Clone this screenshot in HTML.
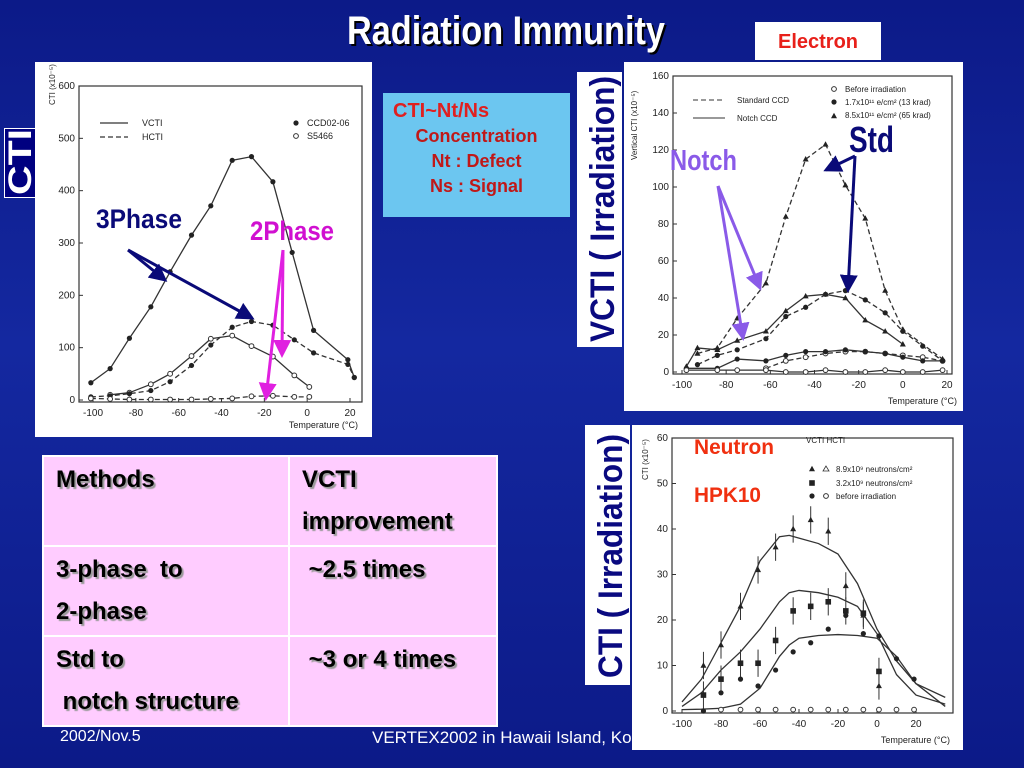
<!DOCTYPE html>
<html><head><meta charset="utf-8"><style>
body{margin:0;width:1024px;height:768px;overflow:hidden;background:linear-gradient(180deg,#0c1a88 0%,#1428a0 45%,#0c1a88 100%);font-family:"Liberation Sans",sans-serif;position:relative}
.abs{position:absolute}
.panel{background:#fff}
table{border-collapse:collapse}
td{border:2px solid #fff;background:#ffccff;vertical-align:top;font-weight:bold;font-size:24px;color:#000;line-height:42px;padding:2px 12px;text-shadow:2px 2px 1px #999}
</style></head><body>
<div class="abs panel" style="left:755px;top:22px;width:126px;height:38px;color:#e8201a;font-size:20px;font-weight:bold;text-align:center;line-height:40px">Electron</div>
<div class="abs" style="left:4px;top:128px;width:30px;height:68px;background:#000080;border:1px solid #fff"></div>
<div class="abs panel" style="left:35px;top:62px;width:337px;height:375px"></div>
<div class="abs" style="left:383px;top:93px;width:187px;height:124px;background:#6cc6f0;color:#c01818;font-size:18px;font-weight:bold;text-align:center;line-height:25px">
<div style="text-align:left;padding-left:10px;font-size:20px;color:#e02020;padding-top:6px">CTI~Nt/Ns</div>
<div>Concentration</div><div>Nt : Defect</div><div>Ns : Signal</div></div>
<div class="abs panel" style="left:577px;top:72px;width:45px;height:275px"></div>
<div class="abs panel" style="left:624px;top:62px;width:339px;height:349px"></div>
<div class="abs panel" style="left:585px;top:425px;width:45px;height:260px"></div>
<div class="abs" style="left:60px;top:728px;color:#fff;font-size:16px">2002/Nov.5</div>
<div class="abs" style="left:372px;top:728px;color:#fff;font-size:17px;white-space:nowrap">VERTEX2002 in Hawaii Island, Kona</div>
<div class="abs panel" style="left:632px;top:425px;width:331px;height:325px"></div>
<table class="abs" style="left:42px;top:455px;width:456px;height:264px">
<tr style="height:90px"><td style="width:220px">Methods</td><td>VCTI<br>improvement</td></tr>
<tr style="height:85px"><td>3-phase&nbsp; to<br>2-phase</td><td>&nbsp;~2.5 times</td></tr>
<tr style="height:89px"><td>Std to<br>&nbsp;notch structure</td><td>&nbsp;~3 or 4 times</td></tr>
</table>
<svg class="abs" id="svg" style="left:0;top:0" width="1024" height="768" font-family="Liberation Sans, sans-serif"></svg>
<script>
// ---- Chart 1 (left) data ----
const c1_vcti_ccd = [[-101,33],[-92,60],[-83,118],[-73,178],[-64,245],[-54,315],[-45,371],[-35,458],[-26,465],[-16,417],[-7,282],[3,133],[19,77],[22,43]];
const c1_vcti_s = [[-92,10],[-83,14],[-73,30],[-64,50],[-54,84],[-45,117],[-35,123],[-26,103],[-16,83],[-6,47],[1,25]];
const c1_hcti_ccd = [[-101,6],[-92,8],[-83,12],[-73,18],[-64,35],[-54,66],[-45,105],[-35,139],[-26,150],[-16,143],[-6,115],[3,90],[19,68],[22,43]];
const c1_hcti_s = [[-101,3],[-92,2],[-83,1],[-73,1],[-64,1],[-54,1],[-45,2],[-35,3],[-26,7],[-16,8],[-6,6],[1,6]];
const c1_xticks = [-100,-80,-60,-40,-20,0,20];
const c1_yticks = [0,100,200,300,400,500,600];
// ---- Chart 2 (electron) data ----
const c2_std_tri = [[-93,10],[-84,13],[-75,29],[-62,48],[-53,84],[-44,115],[-35,123],[-26,101],[-17,83],[-8,44],[0,23],[18,7]];
const c2_std_dot = [[-93,4],[-84,9],[-75,12],[-62,18],[-53,30],[-44,35],[-35,42],[-26,44],[-17,39],[-8,32],[0,22],[9,14],[18,6]];
const c2_std_open = [[-62,2],[-53,6],[-44,8],[-35,10],[-26,11],[-17,11],[-8,10],[0,9],[9,8],[18,6]];
const c2_notch_tri = [[-98,3],[-93,13],[-84,12],[-75,17],[-62,22],[-53,33],[-44,41],[-35,42],[-26,40],[-17,28],[-8,22],[0,15]];
const c2_notch_dot = [[-98,2],[-84,2],[-75,7],[-62,6],[-53,9],[-44,11],[-35,11],[-26,12],[-17,11],[-8,10],[0,8],[9,6],[18,6]];
const c2_notch_open = [[-98,1],[-84,1],[-75,1],[-62,1],[-53,0],[-44,0],[-35,1],[-26,0],[-17,0],[-8,1],[0,0],[9,0],[18,1]];
const c2_xticks = [-100,-80,-60,-40,-20,0,20];
const c2_yticks = [0,20,40,60,80,100,120,140,160];
// ---- Chart 3 (neutron) data ----
const c3_temps = [-89,-80,-70,-61,-52,-43,-34,-25,-16,-7,1];
const c3_tri = [10,14.5,23,31,36,40,42,39.5,27.5,21,5.5];
const c3_sq = [3.5,7,10.5,10.5,15.5,22,23,24,22,21.5,8.7];
const c3_dot_t = [-89,-80,-70,-61,-52,-43,-34,-25,-16,-7,1,10,19];
const c3_dot = [0,4,7,5.5,9,13,15,18,21,17,16.5,11.5,7];
const c3_fit_t = [-100,-90,-80,-70,-60,-50,-45,-40,-30,-20,-10,0,10,20,35];
const c3_fit_hi = [2,7,15,23,33,38.3,38.6,38,36.8,34.5,28,18,11,6,3];
const c3_fit_mid = [1,4,9,13,18,24,26,26.5,26,25,23,17,8,3.5,1.5];
const c3_fit_lo = [0.3,0.4,0.6,1.5,5,12,14.5,16,16.6,16.8,16.6,16,12,6,1];
const c3_xticks = [-100,-80,-60,-40,-20,0,20];
const c3_yticks = [0,10,20,30,40,50,60];

const svg=document.getElementById('svg');
const NS='http://www.w3.org/2000/svg';
function el(tag,attrs,parent){const e=document.createElementNS(NS,tag);for(const k in attrs)e.setAttribute(k,attrs[k]);(parent||svg).appendChild(e);return e;}
function txt(x,y,s,attrs,parent){const t=el('text',Object.assign({x:x,y:y,'font-size':10,fill:'#222'},attrs),parent);t.textContent=s;return t;}
function axes(g,x,y,xt,yt,box){
  el('rect',{x:box[0],y:box[1],width:box[2]-box[0],height:box[3]-box[1],fill:'none',stroke:'#333','stroke-width':1.2},g);
  xt.forEach(v=>{el('line',{x1:x(v),x2:x(v),y1:box[3],y2:box[3]-4,stroke:'#333'},g);const t=txt(x(v),box[3]+14,String(v),{'text-anchor':'middle'},g);});
  yt.forEach(v=>{el('line',{x1:box[0],x2:box[0]+4,y1:y(v),y2:y(v),stroke:'#333'},g);const t=txt(box[0]-4,y(v)+3,String(v),{'text-anchor':'end'},g);});
}
function path(g,pts,x,y,dash,name){const p=el('polyline',{points:pts.map(d=>x(d[0])+','+y(d[1])).join(' '),fill:'none',stroke:'#333','stroke-width':1.3},g);if(dash)p.setAttribute('stroke-dasharray','5,3');return p;}
function mark(g,kind,cx,cy,name){let m;
  if(kind==='dot')m=el('circle',{cx:cx,cy:cy,r:2.6,fill:'#222'},g);
  else if(kind==='open')m=el('circle',{cx:cx,cy:cy,r:2.4,fill:'#fff',stroke:'#333'},g);
  else if(kind==='tri')m=el('polygon',{points:`${cx},${cy-3.2} ${cx-3},${cy+2.2} ${cx+3},${cy+2.2}`,fill:'#222'},g);
  else if(kind==='sq')m=el('rect',{x:cx-2.8,y:cy-2.8,width:5.6,height:5.6,fill:'#222'},g);
  else if(kind==='otri')m=el('polygon',{points:`${cx},${cy-3} ${cx-3},${cy+2} ${cx+3},${cy+2}`,fill:'#fff',stroke:'#333','stroke-width':0.8},g);
  }
function marks(g,pts,x,y,kind,name){pts.forEach(d=>mark(g,kind,x(d[0]),y(d[1]),name));}

// Chart 1
(function(){
const g=el('g',{});
const x=t=>93+(t+100)*257/120, y=v=>400-v*(314/600);
axes(g,x,y,c1_xticks,c1_yticks,[79,86,362,402]);
txt(55,105,'CTI (x10⁻⁵)',{transform:'rotate(-90 55 105)','font-size':8},g);
txt(358,428,'Temperature (°C)',{'text-anchor':'end','font-size':9},g);
path(g,c1_vcti_ccd,x,y,false,'vcti-ccd02-line');marks(g,c1_vcti_ccd,x,y,'dot','vcti-ccd02-point');
path(g,c1_vcti_s,x,y,false,'vcti-s5466-line');marks(g,c1_vcti_s,x,y,'open','vcti-s5466-point');
path(g,c1_hcti_ccd,x,y,true,'hcti-ccd02-line');marks(g,c1_hcti_ccd,x,y,'dot','hcti-ccd02-point');
path(g,c1_hcti_s,x,y,true,'hcti-s5466-line');marks(g,c1_hcti_s,x,y,'open','hcti-s5466-point');
el('line',{x1:100,x2:128,y1:123,y2:123,stroke:'#333','stroke-width':1.3},g);txt(142,126,'VCTI',{'font-size':9},g);
el('line',{x1:100,x2:128,y1:137,y2:137,stroke:'#333','stroke-width':1.3,'stroke-dasharray':'5,3'},g);txt(142,140,'HCTI',{'font-size':9},g);
mark(g,'dot',296,123,'legend-dot');txt(307,126,'CCD02-06',{'font-size':9},g);
mark(g,'open',296,136,'legend-open');txt(307,139,'S5466',{'font-size':9},g);
})();
// Chart 2
(function(){
const g=el('g',{});
const x=t=>682+(t+100)*265/120, y=v=>372-v*(296/160);
axes(g,x,y,c2_xticks,c2_yticks,[673,76,952,374]);
txt(637,160,'Vertical CTI (x10⁻⁵)',{transform:'rotate(-90 637 160)','font-size':8},g);
txt(957,404,'Temperature (°C)',{'text-anchor':'end','font-size':9},g);
path(g,c2_std_tri,x,y,true,'std-65krad-line');marks(g,c2_std_tri,x,y,'tri','std-65krad-point');
path(g,c2_std_dot,x,y,true,'std-13krad-line');marks(g,c2_std_dot,x,y,'dot','std-13krad-point');
path(g,c2_std_open,x,y,true,'std-before-line');marks(g,c2_std_open,x,y,'open','std-before-point');
path(g,c2_notch_tri,x,y,false,'notch-65krad-line');marks(g,c2_notch_tri,x,y,'tri','notch-65krad-point');
path(g,c2_notch_dot,x,y,false,'notch-13krad-line');marks(g,c2_notch_dot,x,y,'dot','notch-13krad-point');
path(g,c2_notch_open,x,y,false,'notch-before-line');marks(g,c2_notch_open,x,y,'open','notch-before-point');
el('line',{x1:693,x2:725,y1:100,y2:100,stroke:'#333','stroke-dasharray':'5,3'},g);txt(737,103,'Standard CCD',{'font-size':8},g);
el('line',{x1:693,x2:725,y1:118,y2:118,stroke:'#333'},g);txt(737,121,'Notch CCD',{'font-size':8},g);
mark(g,'open',834,89,'legend-open');txt(845,92,'Before irradiation',{'font-size':8},g);
mark(g,'dot',834,102,'legend-dot');txt(845,105,'1.7x10¹¹ e/cm² (13 krad)',{'font-size':8},g);
mark(g,'tri',834,116,'legend-tri');txt(845,118,'8.5x10¹¹ e/cm² (65 krad)',{'font-size':8},g);
})();
// Chart 3
(function(){
const g=el('g',{});
const x=t=>682+(t+100)*1.95, y=v=>711-v*(273/60);
const clip=el('clipPath',{id:'c3clip'},g);el('rect',{x:672,y:438,width:281,height:275},clip);
axes(g,x,y,c3_xticks,c3_yticks,[672,438,953,713]);
txt(648,480,'CTI (x10⁻⁵)',{transform:'rotate(-90 648 480)','font-size':8},g);
txt(950,743,'Temperature (°C)',{'text-anchor':'end','font-size':9},g);
const fg=el('g',{'clip-path':'url(#c3clip)'},g);
[[c3_fit_hi,'fit-high'],[c3_fit_mid,'fit-mid'],[c3_fit_lo,'fit-low']].forEach(s=>path(fg,c3_fit_t.map((t,i)=>[t,s[0][i]]),x,y,false,s[1]));
function eb(t,v,name){const l=el('line',{x1:x(t),x2:x(t),y1:y(v+3),y2:y(v-3),stroke:'#333'},g);}
c3_temps.forEach((t,i)=>{eb(t,c3_tri[i],'error-bar');mark(g,'tri',x(t),y(c3_tri[i]),'neutron-8.9e9-point');});
c3_temps.forEach((t,i)=>{eb(t,c3_sq[i],'error-bar');mark(g,'sq',x(t),y(c3_sq[i]),'neutron-3.2e9-point');});
c3_dot_t.forEach((t,i)=>mark(g,'dot',x(t),y(c3_dot[i]),'before-irradiation-point'));
[-80,-70,-61,-52,-43,-34,-25,-16,-7,1,10,19].forEach(t=>mark(g,'open',x(t),y(0.3),'hcti-point'));
txt(806,443,'VCTI  HCTI',{'font-size':8},g);
mark(g,'tri',812,469,'legend-tri');mark(g,'otri',826,469,'legend-otri');txt(836,472,'8.9x10⁹ neutrons/cm²',{'font-size':8},g);
mark(g,'sq',812,483,'legend-sq');txt(836,486,'3.2x10⁹ neutrons/cm²',{'font-size':8},g);
mark(g,'dot',812,496,'legend-dot');mark(g,'open',826,496,'legend-open');txt(836,499,'before irradiation',{'font-size':8},g);
})();
// annotations & condensed labels
(function(){
const g=el('g',{});
el('defs',{},g).innerHTML='<marker id="an" markerWidth="6" markerHeight="6" refX="5" refY="3" orient="auto"><path d="M0,0 L6,3 L0,6 z" fill="#0a0a78"/></marker><marker id="am" markerWidth="6" markerHeight="6" refX="5" refY="3" orient="auto"><path d="M0,0 L6,3 L0,6 z" fill="#e020e0"/></marker><marker id="ap" markerWidth="6" markerHeight="6" refX="5" refY="3" orient="auto"><path d="M0,0 L6,3 L0,6 z" fill="#8a5ae8"/></marker>';
const A=(x1,y1,x2,y2,c,m,n)=>{const l=el('line',{x1,y1,x2,y2,stroke:c,'stroke-width':3,'marker-end':`url(#${m})`},g);};
A(128,250,165,280,'#0a0a78','an','arrow-3phase');A(128,250,252,318,'#0a0a78','an','arrow-3phase');
A(283,250,266,398,'#e020e0','am','arrow-2phase');A(283,250,282,355,'#e020e0','am','arrow-2phase');
A(718,186,760,288,'#8a5ae8','ap','arrow-notch');A(718,186,743,338,'#8a5ae8','ap','arrow-notch');
A(855,156,826,170,'#0a0a78','an','arrow-std');A(855,156,848,290,'#0a0a78','an','arrow-std');
const T=(x,y,s,c,fs,len,n,rot,shadow)=>{
  const a={x:x,y:y,'font-size':fs,fill:c,'font-weight':'bold',textLength:len,lengthAdjust:'spacingAndGlyphs'};
  if(rot)a.transform=`rotate(-90 ${x} ${y})`;
  if(shadow){const s2=Object.assign({},a,{x:x+2,y:y+2,fill:'#000'});if(rot)s2.transform=`rotate(-90 ${x+2} ${y+2})`;const sh=txt(0,0,s,s2,g);}
  const t=txt(0,0,s,a,g);};
T(347,44,'Radiation Immunity','#fff',40,318,'slide-title',false,true);
T(96,228,'3Phase','#0a0a78',27,86,'label-3phase');T(250,240,'2Phase','#d010d0',27,84,'label-2phase');
T(670,170,'Notch','#8a5ae8',29,67,'label-notch');T(849,152,'Std','#0a0a78',36,45,'label-std');
T(694,454,'Neutron','#f03010',21,80,'label-neutron');T(694,502,'HPK10','#f03010',21,67,'label-hpk10');
T(31,195,'CTI','#fff',32,66,'cti-side-text',true);
T(614,342,'VCTI ( Irradiation)','#0a0a80',34,266,'vcti-side-text',true);
T(622,678,'CTI ( Irradiation)','#0a0a80',34,244,'cti-irr-side-text',true);
})();
</script>
</body></html>
